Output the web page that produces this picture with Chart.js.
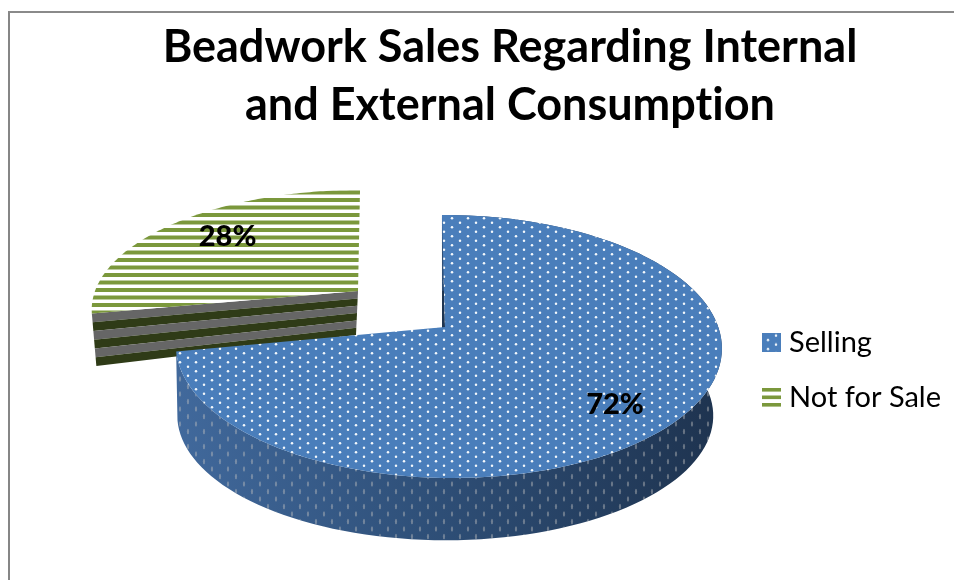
<!DOCTYPE html>
<html>
<head>
<meta charset="utf-8">
<title>Beadwork Sales</title>
<script src="https://cdn.jsdelivr.net/npm/chart.js@4"></script>
<style>
  html, body { margin: 0; background: #fff; overflow: hidden; }
  #wrap { position: relative; width: 954px; height: 580px; }
  #frame { position: absolute; left: 8px; top: 11px; right: 0; bottom: 0; border-left: 2px solid #868686; border-top: 2px solid #8a8a8a; }
  #chart { position: absolute; left: 0; top: 0; }
</style>
</head>
<body>
<div id="wrap">
  <div id="frame"></div>
  <canvas id="chart" width="954" height="580"></canvas>
</div>
<script>
'use strict';

const categories = ['Selling', 'Not for Sale'];
const shareValues = [72, 28];
const titleLines = ['Beadwork Sales Regarding Internal', 'and External Consumption'];

const BLUE = '#4a7ebb';
const GREEN = '#7b983c';

function makeTile(w, h, paint) {
  let tile = document.createElement('canvas');
  tile.width = w;
  tile.height = h;
  paint(tile.getContext('2d'));
  return tile;
}

// staggered white dots on blue
const dotTile = makeTile(16, 18, ctx => {
  ctx.fillStyle = BLUE;
  ctx.fillRect(0, 0, 16, 18);
  ctx.fillStyle = '#f4f8fc';
  [[4, 2.25], [12, 6.75], [4, 11.25], [12, 15.75]].forEach(p => {
    ctx.beginPath();
    ctx.arc(p[0], p[1], 1.25, 0, Math.PI * 2);
    ctx.fill();
  });
});

// same dots stretched down the side wall, no background
const wallDotTile = makeTile(32, 30, ctx => {
  ctx.fillStyle = 'rgba(190, 190, 190, 0.45)';
  [[4, 4], [20, 4], [12, 11.5], [28, 11.5], [4, 19], [20, 19], [12, 26.5], [28, 26.5]].forEach(p => {
    ctx.beginPath();
    ctx.ellipse(p[0], p[1], 1.1, 2.8, 0, 0, Math.PI * 2);
    ctx.fill();
  });
});

const stripeTile = makeTile(4, 15, ctx => {
  ctx.fillStyle = '#fff';
  ctx.fillRect(0, 0, 4, 15);
  ctx.fillStyle = GREEN;
  ctx.fillRect(0, 0, 4, 4);
  ctx.fillRect(0, 7.5, 4, 4);
});

const patternCtx = document.getElementById('chart').getContext('2d');
const dotPattern = patternCtx.createPattern(dotTile, 'repeat');
const wallDotPattern = patternCtx.createPattern(wallDotTile, 'repeat');
const stripePattern = patternCtx.createPattern(stripeTile, 'repeat');
stripePattern.setTransform(new DOMMatrix().translate(0, 3));

const legendIcons = [
  makeTile(19, 19, ctx => {
    ctx.translate(2, -4.25);
    ctx.fillStyle = ctx.createPattern(dotTile, 'repeat');
    ctx.fillRect(-2, 4.25, 19, 19);
  }),
  makeTile(19, 19, ctx => {
    ctx.fillStyle = GREEN;
    [0, 7.5, 15].forEach(y => ctx.fillRect(0, y, 19, 3.6));
  })
];

// tilted planes of the pie, positions relative to the arc centre
const planes = {
  blueTop: { dx: -65, dy: -30, a: 270, b: 128.6, k: 0.148, j: 0.012, shear: 0.027 },
  blueBase: { dx: -68, dy: 40, a: 265, b: 122, k: 0.148, j: 0.012, shear: 0 },
  greenTop: { dx: -152, dy: -66, a: 263, b: 116, k: 0.148, j: 0, shear: -0.02 },
  greenBase: { dx: -154, dy: -22, a: 257, b: 160, k: 0.148, j: 0, shear: 0 }
};

function project(arc, plane, angle, r) {
  let theta = angle + Math.PI / 2;
  let u = r * Math.sin(theta);
  let v = -r * Math.cos(theta);
  let d = 1 - plane.k * v - plane.j * u;
  let y = plane.b * v / d;
  return {
    x: arc.x + plane.dx + plane.a * u / d + plane.shear * y,
    y: arc.y + plane.dy + y
  };
}

function rimPoints(arc, plane) {
  let pts = [];
  let steps = 120;
  for (let i = 0; i <= steps; i++) {
    let angle = arc.startAngle + (arc.endAngle - arc.startAngle) * i / steps;
    pts.push(project(arc, plane, angle, 1));
  }
  return pts;
}

function tracePoints(ctx, pts) {
  pts.forEach((p, i) => (i ? ctx.lineTo(p.x, p.y) : ctx.moveTo(p.x, p.y)));
}

function drawBlueWall(ctx, arc) {
  let top = rimPoints(arc, planes.blueTop);
  let base = rimPoints(arc, planes.blueBase);

  // thin radial wall next to the 12 o'clock cut
  let apexTop = project(arc, planes.blueTop, 0, 0);
  let apexBase = project(arc, planes.blueBase, 0, 0);
  ctx.fillStyle = '#1f3551';
  ctx.beginPath();
  tracePoints(ctx, [apexTop, top[0], base[0], apexBase]);
  ctx.closePath();
  ctx.fill();

  let wall = ctx.createLinearGradient(176, 0, 720, 0);
  wall.addColorStop(0, '#41699c');
  wall.addColorStop(0.45, '#2f5079');
  wall.addColorStop(1, '#1e334f');
  ctx.beginPath();
  tracePoints(ctx, top.concat(base.slice().reverse()));
  ctx.closePath();
  ctx.fillStyle = wall;
  ctx.fill();
  ctx.fillStyle = wallDotPattern;
  ctx.fill();
}

function drawGreenFront(ctx, arc) {
  let angle = arc.startAngle;
  let a = project(arc, planes.greenTop, angle, 0);
  let b = project(arc, planes.greenTop, angle, 1);
  let c = project(arc, planes.greenBase, angle, 1);
  let d = project(arc, planes.greenBase, angle, 0);
  let bands = 6;
  let mix = (p, q, t) => ({ x: p.x + (q.x - p.x) * t, y: p.y + (q.y - p.y) * t });
  for (let i = 0; i < bands; i++) {
    ctx.fillStyle = i % 2 ? '#2f3b17' : '#666666';
    ctx.beginPath();
    tracePoints(ctx, [mix(a, d, i / bands), mix(b, c, i / bands), mix(b, c, (i + 1) / bands), mix(a, d, (i + 1) / bands)]);
    ctx.closePath();
    ctx.fill();
  }
}

function drawFace(ctx, arc, plane, fill) {
  ctx.fillStyle = fill;
  ctx.beginPath();
  let apex = project(arc, plane, 0, 0);
  ctx.moveTo(apex.x, apex.y);
  rimPoints(arc, plane).forEach(p => ctx.lineTo(p.x, p.y));
  ctx.closePath();
  ctx.fill();
}

function drawPercent(ctx, arc, plane, value, shiftX, shiftY) {
  let mid = (arc.startAngle + arc.endAngle) / 2;
  let p = project(arc, plane, mid, 0.73);
  ctx.fillStyle = '#000';
  ctx.font = '900 29px Lato';
  ctx.textAlign = 'center';
  ctx.textBaseline = 'middle';
  ctx.fillText(value + '%', p.x + shiftX, p.y + shiftY);
}

// draws the pie slices as a tilted solid from the arcs the controller computed
const solidPie = {
  id: 'solidPie',
  beforeDraw(chart) {
    // keeps "ti" from joining into a ligature
    chart.ctx.letterSpacing = '0.01px';
  },
  beforeDatasetDraw(chart, args) {
    let ctx = chart.ctx;
    let arcs = chart.getDatasetMeta(args.index).data;
    let blue = arcs[0];
    let green = arcs[1];
    ctx.save();
    drawGreenFront(ctx, green);
    drawFace(ctx, green, planes.greenTop, stripePattern);
    drawBlueWall(ctx, blue);
    drawFace(ctx, blue, planes.blueTop, dotPattern);
    drawPercent(ctx, green, planes.greenTop, shareValues[1], 7, -4);
    drawPercent(ctx, blue, planes.blueTop, shareValues[0], 4, 13);
    ctx.restore();
    return false;
  },
  afterLayout(chart) {
    let legend = chart.legend;
    legend.left = 742.5;
    legend.right = 954;
    legend.top = 300;
    legend.bottom = 440;
  }
};

let config = {
  type: 'pie',
  data: {
    labels: categories,
    datasets: [{
      data: shareValues,
      backgroundColor: [dotPattern, stripePattern],
      borderWidth: 0
    }]
  },
  options: {
    responsive: false,
    animation: false,
    events: [],
    layout: { padding: { left: 66 } },
    plugins: {
      title: {
        display: true,
        text: titleLines,
        color: '#000',
        font: { family: 'Lato', size: 45, weight: 'bold', lineHeight: 1.29 },
        padding: { top: 18, bottom: 0 }
      },
      legend: {
        position: 'chartArea',
        labels: {
          color: '#000',
          font: { family: 'Lato', size: 29 },
          usePointStyle: true,
          pointStyleWidth: 6,
          padding: 26,
          generateLabels(chart) {
            let items = Chart.overrides.pie.plugins.legend.labels.generateLabels(chart);
            items.forEach((item, i) => { item.pointStyle = legendIcons[i]; });
            return items;
          }
        }
      },
      tooltip: { enabled: false }
    }
  },
  plugins: [solidPie]
};

new Chart(document.getElementById('chart'), config);
</script>
</body>
</html>
